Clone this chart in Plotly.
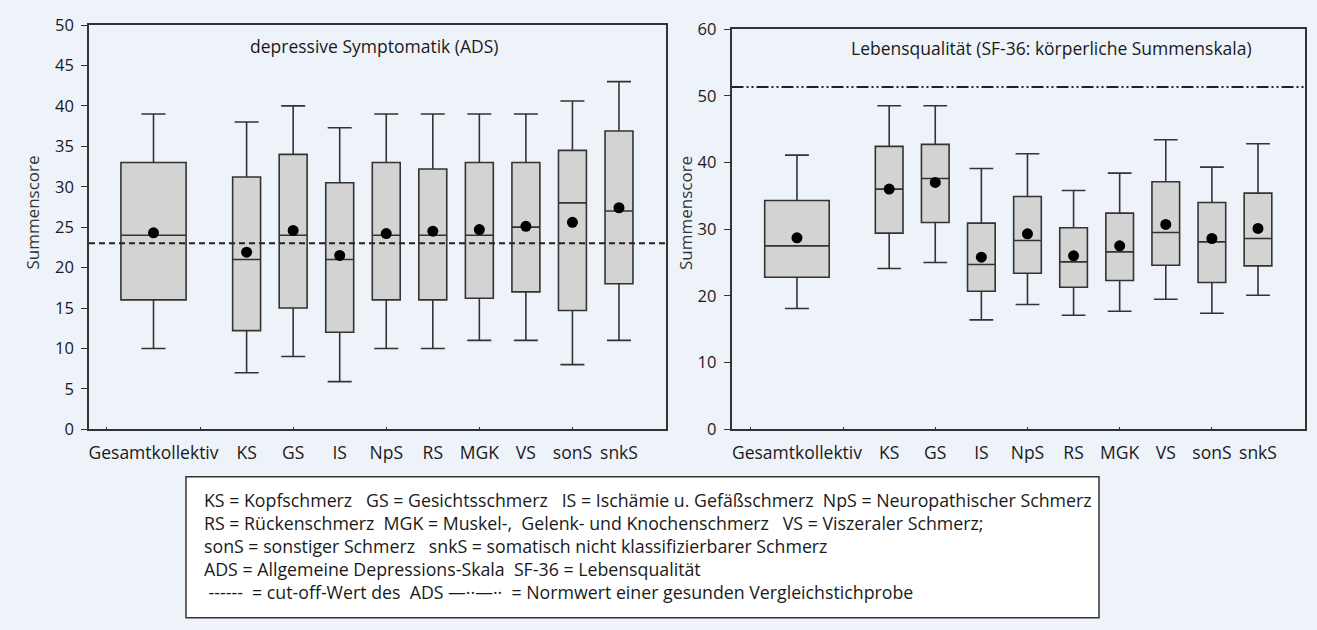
import plotly.graph_objects as go

W, H = 1317, 630

categories = ["Gesamtkollektiv", "KS", "GS", "IS", "NpS", "RS", "MGK", "VS", "sonS", "snkS"]
positions = [0, 2, 3, 4, 5, 6, 7, 8, 9, 10]

# ADS (depressive Symptomatik)
ads_low = [10, 7, 9, 5.9, 10, 10, 11, 11, 8, 11]
ads_q1 = [16, 12.2, 15, 12, 16, 16, 16.2, 17, 14.7, 18]
ads_med = [24, 21, 24, 21, 24, 24, 24, 25, 28, 27]
ads_q3 = [33, 31.2, 34, 30.5, 33, 32.2, 33, 33, 34.5, 36.9]
ads_high = [39, 38, 40, 37.3, 39, 39, 39, 39, 40.6, 43]
ads_mean = [24.3, 21.9, 24.6, 21.5, 24.2, 24.5, 24.7, 25.1, 25.6, 27.4]
ads_cutoff = 23

# SF-36 koerperliche Summenskala
sf_low = [18.1, 24.1, 25.0, 16.4, 18.7, 17.1, 17.7, 19.5, 17.4, 20.1]
sf_q1 = [22.8, 29.4, 31.0, 20.7, 23.4, 21.3, 22.3, 24.6, 22.0, 24.5]
sf_med = [27.5, 36.0, 37.6, 24.7, 28.3, 25.1, 26.6, 29.5, 28.1, 28.6]
sf_q3 = [34.3, 42.4, 42.7, 30.9, 34.9, 30.2, 32.4, 37.1, 34.0, 35.4]
sf_high = [41.1, 48.5, 48.5, 39.1, 41.3, 35.8, 38.4, 43.4, 39.3, 42.8]
sf_mean = [28.7, 36.0, 37.0, 25.8, 29.3, 26.0, 27.5, 30.7, 28.6, 30.1]
sf_norm = 51.3

left_ticks = [0, 5, 10, 15, 20, 25, 30, 35, 40, 45, 50]
right_ticks = [0, 10, 20, 30, 40, 50, 60]

BG = "#EEF3FA"
LINE = "#333333"
FILL = "#D3D3D3"
FONT = "Open Sans"
TXT = "#1a1a1a"

fig = go.Figure()


def add_panel(xa, ya, low, q1, med, q3, high, mean):
    # Gesamtkollektiv (wide box)
    fig.add_trace(go.Box(
        x=[positions[0]], lowerfence=[low[0]], q1=[q1[0]], median=[med[0]],
        q3=[q3[0]], upperfence=[high[0]], width=1.4, whiskerwidth=0.37,
        fillcolor=FILL, line=dict(color=LINE, width=1.6), boxpoints=False,
        xaxis=xa, yaxis=ya, showlegend=False, hoverinfo="skip"))
    fig.add_trace(go.Box(
        x=positions[1:], lowerfence=low[1:], q1=q1[1:], median=med[1:],
        q3=q3[1:], upperfence=high[1:], width=0.6, whiskerwidth=0.86,
        fillcolor=FILL, line=dict(color=LINE, width=1.6), boxpoints=False,
        xaxis=xa, yaxis=ya, showlegend=False, hoverinfo="skip"))
    fig.add_trace(go.Scatter(
        x=positions, y=mean, mode="markers",
        marker=dict(color="black", size=11), xaxis=xa, yaxis=ya,
        showlegend=False, hoverinfo="skip"))


add_panel("x", "y", ads_low, ads_q1, ads_med, ads_q3, ads_high, ads_mean)
add_panel("x2", "y2", sf_low, sf_q1, sf_med, sf_q3, sf_high, sf_mean)


def px_x(v):
    return v / W


def px_y(v):
    return 1 - v / H


xcommon = dict(
    tickmode="array", tickvals=positions, ticktext=categories, ticks="",
    showline=True, mirror=True, linecolor=LINE, linewidth=1.5,
    showgrid=False, zeroline=False, ticklabelstandoff=7, automargin=False,
    tickfont=dict(family=FONT, size=17.5, color=TXT),
    minor=dict(tickvals=[-1, 1, 3, 5, 7, 9], ticks="inside", ticklen=3,
               tickcolor=LINE, showgrid=False),
)
ycommon = dict(
    showline=True, mirror=True, linecolor=LINE, linewidth=1.5,
    showgrid=False, zeroline=False, ticks="outside", ticklen=6,
    tickcolor=LINE, ticklabelstandoff=4, automargin=False,
    tickfont=dict(family=FONT, size=16.5, color=TXT),
)

fig.update_layout(
    template="none",
    width=W, height=H, margin=dict(l=0, r=0, t=0, b=0, pad=0, autoexpand=False),
    paper_bgcolor=BG, plot_bgcolor=BG, boxmode="overlay", showlegend=False,
    font=dict(family=FONT, color=TXT),
    xaxis=dict(domain=[px_x(89), px_x(666)], range=[-1.386, 11.01], anchor="y", **xcommon),
    yaxis=dict(domain=[px_y(429.3), px_y(25)], range=[0, 50], tickvals=left_ticks, anchor="x", **ycommon),
    xaxis2=dict(domain=[px_x(731.5), px_x(1305)], range=[-1.42, 11.02], anchor="y2", **xcommon),
    yaxis2=dict(domain=[px_y(429.3), px_y(29)], range=[0, 60], tickvals=right_ticks, anchor="x2", **ycommon),
)

# reference lines
fig.add_shape(type="line", xref="x domain", yref="y", x0=0, x1=1, y0=ads_cutoff, y1=ads_cutoff,
              line=dict(color="#222222", width=2, dash="6px,4px"))
fig.add_shape(type="line", xref="x2 domain", yref="y2", x0=0, x1=1, y0=sf_norm, y1=sf_norm,
              line=dict(color="#222222", width=2, dash="12px,3px,2px,3px,2px,3px"))

# y axis titles
for xpos in (31.6, 685):
    fig.add_annotation(text="Summenscore", xref="paper", yref="paper",
                       x=px_x(xpos), y=px_y(213), xanchor="center", yanchor="middle",
                       textangle=-90, showarrow=False,
                       font=dict(family=FONT, size=17, color="#333333"))

# panel titles
fig.add_annotation(text="depressive Symptomatik (ADS)", xref="paper", yref="paper",
                   x=px_x(374), y=px_y(46), xanchor="center", yanchor="middle", showarrow=False,
                   font=dict(family=FONT, size=17.5, color=TXT))
fig.add_annotation(text="Lebensqualität (SF-36: körperliche Summenskala)", xref="paper", yref="paper",
                   x=px_x(1051), y=px_y(48), xanchor="center", yanchor="middle", showarrow=False,
                   font=dict(family=FONT, size=17.5, color=TXT))

# legend box
fig.add_shape(type="rect", xref="paper", yref="paper",
              x0=px_x(186), x1=px_x(1099), y0=px_y(617.7), y1=px_y(476.7),
              fillcolor="white", line=dict(color=LINE, width=1.5), layer="below")

legend_lines = [
    "KS = Kopfschmerz\u00a0\u00a0 GS = Gesichtsschmerz\u00a0\u00a0 IS = Ischämie u. Gefäßschmerz\u00a0 NpS = Neuropathischer Schmerz",
    "RS = Rückenschmerz\u00a0 MGK = Muskel-,\u00a0 Gelenk- und Knochenschmerz\u00a0\u00a0 VS = Viszeraler Schmerz;",
    "sonS = sonstiger Schmerz\u00a0\u00a0 snkS = somatisch nicht klassifizierbarer Schmerz",
    "ADS = Allgemeine Depressions-Skala\u00a0 SF-36 = Lebensqualität",
    "\u00a0------\u00a0 = cut-off-Wert des\u00a0 ADS —··—··\u00a0 = Normwert einer gesunden Vergleichstichprobe",
]
fig.add_annotation(text="<br>".join(legend_lines), xref="paper", yref="paper",
                   x=px_x(202), y=px_y(546), xanchor="left", yanchor="middle", align="left",
                   showarrow=False, font=dict(family=FONT, size=17.75, color=TXT))

fig.write_html(
    "out.html",
    config={"displayModeBar": False},
    post_script="document.body.style.margin='0';document.body.style.background='" + BG + "';",
)
